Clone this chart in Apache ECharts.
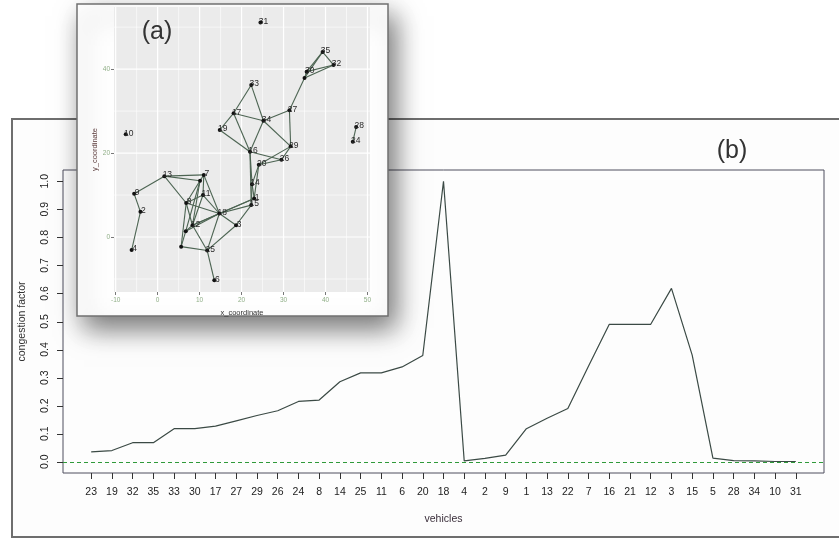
<!DOCTYPE html>
<html>
<head>
<meta charset="utf-8">
<title>congestion factor per vehicle</title>
<script src="https://cdn.jsdelivr.net/npm/echarts@6/dist/echarts.min.js"></script>
<style>
  html, body { margin: 0; padding: 0; background: #ffffff; }
  #chart { width: 839px; height: 540px; }
</style>
</head>
<body>
<div id="chart"></div>
<script>
// ---- panel (b): congestion factor by vehicle ----
const vehicles = ['23','19','32','35','33','30','17','27','29','26','24','8','14','25','11','6','20','18',
                  '4','2','9','1','13','22','7','16','21','12','3','15','5','28','34','10','31'];
const congestion = [0.035,0.040,0.068,0.068,0.118,0.118,0.127,0.146,0.165,0.182,0.215,0.220,0.285,0.317,
                    0.317,0.338,0.379,1.000,0.003,0.012,0.024,0.118,0.155,0.190,0.341,0.490,0.490,0.490,
                    0.618,0.380,0.013,0.004,0.003,0.001,0.001];
const congestionTicks = [0,0.1,0.2,0.3,0.4,0.5,0.6,0.7,0.8,0.9,1.0];

// ---- panel (a): vehicle positions and links ----
const nodeIds = ['31','35','32','30','22','33','27','17','34','19','10','28','24','29','16','26','20','13',
                 '7','21','14','9','11','1','15','2','8','18','3','12','23','4','5','25','6'];
const nodeX = [24.5,39.3,41.9,35.5,35.0,22.3,31.4,18.1,25.2,14.8,-7.6,47.3,46.5,31.7,22.0,29.5,24.1,1.6,
               11.0,10.1,22.5,-5.6,10.8,23.0,22.3,-4.1,6.8,14.7,18.7,8.3,6.7,-6.2,5.6,11.8,13.5];
const nodeY = [51.1,44.1,41.0,39.4,37.9,36.2,30.2,29.5,27.7,25.5,24.5,26.2,22.7,21.6,20.3,18.4,17.2,14.5,
               14.8,13.4,12.6,10.3,10.0,9.2,7.6,6.0,8.1,5.6,2.8,2.8,1.4,-3.1,-2.3,-3.2,-10.3];
const unlabeledNodes = ['22','21','23','5'];
const links = [
  ['35','32'],['35','30'],['35','22'],['30','32'],['22','32'],['30','22'],['22','27'],['27','34'],['27','29'],
  ['33','17'],['33','34'],['17','19'],['17','34'],['17','16'],['19','16'],['34','16'],['34','29'],['16','26'],
  ['29','26'],['29','20'],['26','20'],['16','14'],['16','15'],['20','14'],['20','1'],['14','1'],['14','15'],
  ['1','18'],['15','18'],['15','3'],['1','12'],['13','9'],['13','7'],['13','21'],['13','8'],['7','21'],
  ['7','11'],['7','18'],['21','8'],['21','12'],['21','23'],['11','8'],['11','12'],['11','18'],['8','18'],
  ['8','12'],['8','5'],['18','12'],['18','23'],['18','25'],['18','3'],['12','23'],['12','25'],['23','5'],
  ['5','25'],['25','6'],['3','25'],['9','2'],['2','4'],['28','24']
];
const xCoordTicks = [-10,0,10,20,30,40,50];
const yCoordTicks = [0,20,40];
const xCoordGrid = [-10,-5,0,5,10,15,20,25,30,35,40,45,50];
const yCoordGrid = [-10,0,10,20,30,40,50];

// ---- layout ----
const mainGrid = { left: 63, top: 170, width: 761, height: 303 };
const mainX = [-1.36, 35.36];
const mainY = [-0.04, 1.04];
const insetBox = { x: 77, y: 4, width: 311, height: 312 };
const insetGrid = { left: 114, top: 7, width: 256, height: 285 };
const insetX = [-10.4, 50.6];
const insetY = [-13.1, 54.8];
const sans = '"Liberation Sans", Arial, sans-serif';

// panel grid lines: [value, 0] = vertical line at x, [value, 1] = horizontal line at y
const gridLineData = xCoordGrid.map(v => [v, 0]).concat(yCoordGrid.map(v => [v, 1]));

function renderGridLine(params, api) {
  const v = api.value(0);
  const horizontal = api.value(1) === 1;
  const p1 = horizontal ? api.coord([insetX[0], v]) : api.coord([v, insetY[0]]);
  const p2 = horizontal ? api.coord([insetX[1], v]) : api.coord([v, insetY[1]]);
  const major = horizontal ? (v % 20 === 0) : (v % 10 === 0);
  return {
    type: 'line',
    shape: { x1: p1[0], y1: p1[1], x2: p2[0], y2: p2[1] },
    style: { stroke: '#ffffff', lineWidth: major ? 1.2 : 0.6 }
  };
}

// outward tick marks on the left side of the congestion plot
function renderYTick(params, api) {
  const p = api.coord([mainX[0], api.value(1)]);
  const y = Math.round(p[1]) + 0.5;
  return {
    type: 'line',
    shape: { x1: p[0] - 6, y1: y, x2: p[0], y2: y },
    style: { stroke: '#333', lineWidth: 1 }
  };
}

const chart = echarts.init(document.getElementById('chart'), null, { renderer: 'canvas' });

const option = {
  animation: false,
  backgroundColor: '#ffffff',
  graphic: [
    { // outer frame of panel (b)
      type: 'rect', zlevel: 0, z: 1, silent: true,
      shape: { x: 12, y: 119, width: 840, height: 418 },
      style: { fill: '#fdfdfd', stroke: '#6e6e6e', lineWidth: 2 }
    },
    {
      type: 'text', zlevel: 0, z: 10, silent: true,
      style: { x: 732, y: 151, text: '(b)', fill: '#333', font: '25px ' + sans,
               textAlign: 'center', textVerticalAlign: 'middle' }
    },
    { // white card of panel (a) with its drop shadow
      type: 'rect', zlevel: 1, z: 1, silent: true,
      shape: insetBox,
      style: { fill: '#ffffff', stroke: '#707070', lineWidth: 1.5,
               shadowBlur: 26, shadowOffsetX: 7, shadowOffsetY: 12, shadowColor: 'rgba(0,0,0,0.55)' }
    },
    {
      type: 'text', zlevel: 1, z: 10, silent: true,
      style: { x: 157, y: 32, text: '(a)', fill: '#333', font: '25px ' + sans,
               textAlign: 'center', textVerticalAlign: 'middle' }
    }
  ],
  grid: [
    Object.assign({ show: true, borderColor: '#4f4f5f', borderWidth: 1, backgroundColor: 'transparent',
                    zlevel: 0, z: 2, containLabel: false }, mainGrid),
    Object.assign({ show: true, borderWidth: 0, backgroundColor: '#ebebeb',
                    zlevel: 1, z: 2, containLabel: false }, insetGrid)
  ],
  xAxis: [
    {
      type: 'value', gridIndex: 0, min: mainX[0], max: mainX[1], zlevel: 0, z: 3,
      name: 'vehicles', nameLocation: 'middle', nameGap: 41,
      nameTextStyle: { color: '#3a2e3a', fontSize: 10.5, fontFamily: sans },
      axisLine: { show: false, onZero: false },
      splitLine: { show: false },
      axisTick: { show: true, length: 6, customValues: vehicles.map((v, i) => i),
                  lineStyle: { color: '#333', width: 1 } },
      axisLabel: { show: true, margin: 14, fontSize: 10.5, fontFamily: sans, color: '#222',
                   customValues: vehicles.map((v, i) => i),
                   formatter: v => vehicles[Math.round(v)] }
    },
    {
      type: 'value', gridIndex: 1, min: insetX[0], max: insetX[1], zlevel: 1, z: 3,
      name: 'x_coordinate', nameLocation: 'middle', nameGap: 14,
      nameTextStyle: { color: '#333', fontSize: 7.5, fontFamily: sans },
      axisLine: { show: false, onZero: false },
      splitLine: { show: false },
      axisTick: { show: true, length: 3, customValues: xCoordTicks, lineStyle: { color: '#555', width: 0.8 } },
      axisLabel: { show: true, margin: 5, fontSize: 6.5, fontFamily: sans, color: '#8fae86',
                   customValues: xCoordTicks }
    }
  ],
  yAxis: [
    {
      type: 'value', gridIndex: 0, min: mainY[0], max: mainY[1], zlevel: 0, z: 3,
      name: 'congestion factor', nameLocation: 'middle', nameGap: 35, nameRotate: 90,
      nameTextStyle: { color: '#333', fontSize: 10.5, fontFamily: sans },
      axisLine: { show: false, onZero: false },
      splitLine: { show: false },
      axisTick: { show: false },
      axisLabel: { show: true, rotate: 90, margin: 12, fontSize: 10.5, fontFamily: sans, color: '#222',
                   customValues: congestionTicks, formatter: v => v.toFixed(1) }
    },
    {
      type: 'value', gridIndex: 1, min: insetY[0], max: insetY[1], zlevel: 1, z: 3,
      name: 'y_coordinate', nameLocation: 'middle', nameGap: 10, nameRotate: 90,
      nameTextStyle: { color: '#5a3a3a', fontSize: 7.5, fontFamily: sans },
      axisLine: { show: false, onZero: false },
      splitLine: { show: false },
      axisTick: { show: true, length: 3, customValues: yCoordTicks, lineStyle: { color: '#555', width: 0.8 } },
      axisLabel: { show: true, margin: 4, fontSize: 6.5, fontFamily: sans, color: '#8fae86',
                   customValues: yCoordTicks }
    }
  ],
  series: [
    {
      type: 'line', xAxisIndex: 0, yAxisIndex: 0, zlevel: 0, z: 4,
      data: congestion.map((v, i) => [i, v]),
      symbol: 'none', smooth: false,
      lineStyle: { color: '#3b4a45', width: 1.2 },
      markLine: {
        silent: true, symbol: 'none', animation: false,
        label: { show: false },
        lineStyle: { color: '#2f9a3a', type: [4, 3], width: 1 },
        data: [{ yAxis: 0 }]
      }
    },
    {
      type: 'custom', xAxisIndex: 0, yAxisIndex: 0, zlevel: 0, z: 4, silent: true, clip: false,
      data: congestionTicks.map(v => [mainX[0], v]),
      renderItem: renderYTick
    },
    {
      type: 'custom', xAxisIndex: 1, yAxisIndex: 1, zlevel: 1, z: 3, silent: true,
      data: gridLineData,
      renderItem: renderGridLine
    },
    {
      type: 'graph', coordinateSystem: 'cartesian2d', xAxisIndex: 1, yAxisIndex: 1,
      zlevel: 1, z: 5, layout: 'none', silent: true,
      symbol: 'circle', symbolSize: 4,
      itemStyle: { color: '#111' },
      lineStyle: { color: '#4c6452', width: 1.1, opacity: 1, curveness: 0 },
      label: { show: true, position: 'inside', offset: [3, -1], fontSize: 8.5, fontFamily: sans, color: '#2a2a2a' },
      data: nodeIds.map((id, i) => ({
        name: id, value: [nodeX[i], nodeY[i]],
        label: { show: unlabeledNodes.indexOf(id) < 0 }
      })),
      links: links.map(([a, b]) => ({ source: a, target: b }))
    }
  ]
};

chart.setOption(option);
</script>
</body>
</html>
